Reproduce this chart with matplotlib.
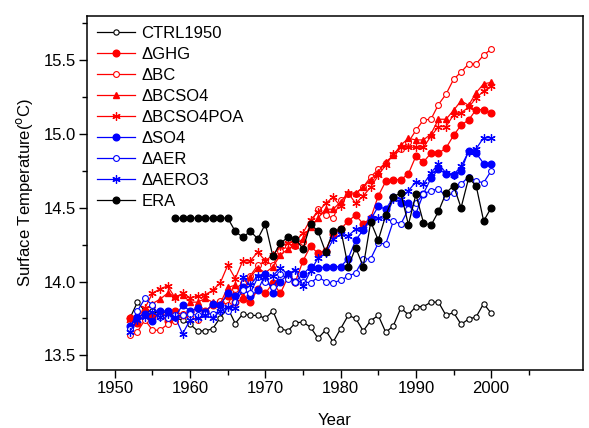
import numpy as np
import matplotlib
matplotlib.use("Agg")
import matplotlib.pyplot as plt
from matplotlib.ticker import MultipleLocator, FixedLocator

plt.rcParams['font.family'] = ['Liberation Sans', 'DejaVu Sans']

years = np.arange(1952, 2001)
era_years = np.arange(1958, 2001)

ctrl1950 = [13.75, 13.86, 13.80, 13.80, 13.78, 13.80, 13.75, 13.74, 13.71, 13.665,
            13.665, 13.68, 13.755, 13.82, 13.715, 13.78, 13.77, 13.77, 13.75, 13.80,
            13.68, 13.665, 13.72, 13.725, 13.69, 13.615, 13.67, 13.59, 13.68, 13.77,
            13.75, 13.665, 13.735, 13.77, 13.655, 13.70, 13.82, 13.775, 13.83, 13.83,
            13.86, 13.86, 13.77, 13.79, 13.71, 13.745, 13.76, 13.85, 13.785]
d_ghg = [13.75, 13.72, 13.78, 13.76, 13.78, 13.73, 13.80, 13.77, 13.79, 13.82,
         13.80, 13.84, 13.86, 13.90, 13.86, 13.88, 13.86, 13.95, 13.92, 13.99,
         13.92, 14.03, 14.00, 14.14, 14.24, 14.19, 14.21, 14.32, 14.355, 14.41,
         14.45, 14.39, 14.43, 14.58, 14.68, 14.69, 14.69, 14.73, 14.85, 14.81,
         14.87, 14.87, 14.905, 14.99, 15.06, 15.095, 15.165, 15.165, 15.14]
d_bc = [13.64, 13.66, 13.74, 13.67, 13.67, 13.71, 13.73, 13.78, 13.76, 13.74,
        13.80, 13.84, 13.87, 13.84, 13.95, 13.99, 14.04, 14.11, 14.14, 14.11,
        14.21, 14.24, 14.24, 14.265, 14.39, 14.49, 14.45, 14.43, 14.55, 14.59,
        14.595, 14.64, 14.71, 14.76, 14.805, 14.855, 14.895, 14.945, 15.025, 15.095,
        15.10, 15.20, 15.27, 15.37, 15.42, 15.475, 15.475, 15.535, 15.575]
d_bcso4 = [13.76, 13.74, 13.80, 13.85, 13.88, 13.92, 13.90, 13.91, 13.86, 13.86,
           13.885, 13.86, 13.85, 13.96, 13.975, 13.90, 14.03, 14.09, 14.06, 14.10,
           14.18, 14.22, 14.25, 14.29, 14.37, 14.43, 14.49, 14.49, 14.54, 14.60,
           14.60, 14.64, 14.69, 14.745, 14.81, 14.855, 14.925, 14.97, 14.96, 14.96,
           15.00, 15.10, 15.10, 15.16, 15.225, 15.195, 15.28, 15.34, 15.35]
d_bcso4poa = [13.74, 13.76, 13.82, 13.92, 13.95, 13.97, 13.89, 13.92, 13.89, 13.90,
              13.91, 13.94, 13.99, 14.11, 14.02, 14.14, 14.14, 14.20, 14.14, 14.18,
              14.24, 14.26, 14.27, 14.33, 14.42, 14.47, 14.53, 14.57, 14.51, 14.60,
              14.53, 14.58, 14.64, 14.72, 14.79, 14.865, 14.91, 14.91, 14.91, 14.91,
              14.985, 15.05, 15.05, 15.13, 15.145, 15.18, 15.245, 15.29, 15.325]
d_so4 = [13.70, 13.76, 13.78, 13.73, 13.80, 13.80, 13.76, 13.84, 13.80, 13.82,
         13.79, 13.85, 13.84, 13.92, 13.90, 13.96, 13.90, 13.94, 14.05, 13.92,
         14.00, 14.05, 14.00, 14.05, 14.10, 14.09, 14.10, 14.10, 14.10, 14.155,
         14.28, 14.35, 14.42, 14.51, 14.49, 14.57, 14.53, 14.53, 14.46, 14.595,
         14.70, 14.76, 14.73, 14.725, 14.75, 14.885, 14.87, 14.80, 14.80]
d_aer = [13.68, 13.80, 13.885, 13.84, 13.76, 13.75, 13.77, 13.77, 13.78, 13.77,
         13.78, 13.78, 13.80, 13.80, 13.86, 13.94, 13.92, 14.03, 14.00, 13.96,
         14.05, 14.02, 14.00, 14.00, 13.99, 14.03, 14.00, 13.99, 14.01, 14.035,
         14.06, 14.15, 14.155, 14.26, 14.255, 14.41, 14.39, 14.49, 14.53, 14.595,
         14.615, 14.63, 14.575, 14.60, 14.66, 14.71, 14.68, 14.67, 14.75]
d_aero3 = [13.66, 13.74, 13.76, 13.79, 13.76, 13.78, 13.76, 13.645, 13.74, 13.75,
           13.77, 13.75, 13.80, 13.83, 13.82, 14.03, 13.975, 14.04, 14.03, 14.04,
           14.09, 14.05, 14.08, 13.97, 14.07, 14.16, 14.19, 14.285, 14.32, 14.31,
           14.355, 14.355, 14.43, 14.43, 14.43, 14.56, 14.56, 14.615, 14.675, 14.66,
           14.735, 14.80, 14.735, 14.725, 14.78, 14.88, 14.90, 14.975, 14.975]
era = [14.43, 14.43, 14.43, 14.43, 14.43, 14.43, 14.43, 14.43,
       14.34, 14.30, 14.34, 14.29, 14.39, 14.17, 14.26, 14.30,
       14.29, 14.22, 14.39, 14.34, 14.20, 14.34, 14.355, 14.10, 14.23, 14.10,
       14.405, 14.28, 14.45, 14.575, 14.60, 14.385, 14.59, 14.40, 14.38, 14.475,
       14.60, 14.65, 14.50, 14.70, 14.65, 14.41, 14.50]

fig = plt.figure(figsize=(5.89, 4.28), dpi=100)
ax = fig.add_axes([0.1477, 0.1355, 0.8421, 0.8271])

star = (6, 2, 0)
lw = 0.9
ax.plot(years, ctrl1950, '-o', color='black', mfc='white', mec='black', ms=3.8, mew=0.8, lw=lw, label='CTRL1950')
ax.plot(years, d_ghg, '-o', color='red', ms=4.8, lw=lw, label='\u0394GHG')
ax.plot(years, d_bc, '-o', color='red', mfc='white', mec='red', ms=4.2, mew=0.8, lw=lw, label='\u0394BC')
ax.plot(years, d_bcso4, '-^', color='red', ms=5, lw=lw, label='\u0394BCSO4')
ax.plot(years, d_bcso4poa, '-', marker=star, color='red', ms=6, mew=0.9, lw=lw, label='\u0394BCSO4POA')
ax.plot(years, d_so4, '-o', color='blue', ms=4.8, lw=lw, label='\u0394SO4')
ax.plot(years, d_aer, '-o', color='blue', mfc='white', mec='blue', ms=4.2, mew=0.8, lw=lw, label='\u0394AER')
ax.plot(years, d_aero3, '-', marker=star, color='blue', ms=6, mew=0.9, lw=lw, label='\u0394AERO3')
ax.plot(era_years, era, '-o', color='black', ms=4.8, lw=lw, label='ERA')

ax.set_xlim(1946.3, 2012.2)
ax.set_ylim(13.4, 15.8)
ax.xaxis.set_major_locator(FixedLocator(np.arange(1950, 2001, 10)))
ax.xaxis.set_minor_locator(FixedLocator(np.arange(1955, 2006, 10)))
ax.yaxis.set_major_locator(MultipleLocator(0.5))
ax.yaxis.set_minor_locator(MultipleLocator(0.25))
ax.yaxis.set_major_formatter(plt.FormatStrFormatter('%.1f'))
ax.tick_params(which='both', direction='out', top=False, right=False, labelsize=12, width=1, pad=2)
ax.tick_params(which='major', length=6)
ax.tick_params(which='minor', length=3.5)
for s in ax.spines.values():
    s.set_linewidth(1.1)

ax.set_xlabel('Year', fontsize=12, labelpad=12)
ax.set_ylabel('Surface Temperature($^{\\rm o}$C)', fontsize=12, labelpad=6)

ax.legend(loc='upper left', frameon=False, fontsize=12, handlelength=2.3, handletextpad=0.35,
          labelspacing=0.36, borderaxespad=0.3, borderpad=0.3)

fig.savefig('out.png', dpi=100)
